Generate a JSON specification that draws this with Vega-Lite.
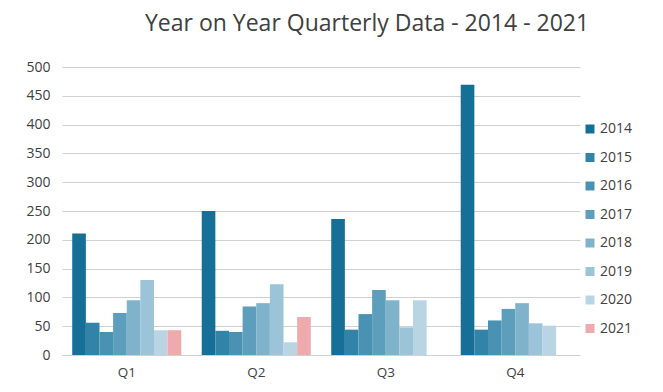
{
  "$schema": "https://vega.github.io/schema/vega-lite/v6.json",
  "width": 518,
  "height": 288,
  "autosize": {"type": "none"},
  "padding": {"left": 62, "top": 67, "right": 83, "bottom": 37},
  "background": "white",
  "title": {
    "text": "Year on Year Quarterly Data - 2014 - 2021",
    "anchor": "start",
    "frame": "group",
    "dx": 83,
    "offset": 24,
    "fontSize": 23,
    "font": "Open Sans",
    "fontWeight": "normal",
    "color": "#404040"
  },
  "config": {
    "view": {"stroke": null},
    "font": "Open Sans"
  },
  "data": {
    "values": [
      {"q": "Q1", "year": "2014", "v": 211},
      {"q": "Q1", "year": "2015", "v": 56},
      {"q": "Q1", "year": "2016", "v": 40},
      {"q": "Q1", "year": "2017", "v": 73},
      {"q": "Q1", "year": "2018", "v": 95},
      {"q": "Q1", "year": "2019", "v": 130},
      {"q": "Q1", "year": "2020", "v": 43},
      {"q": "Q1", "year": "2021", "v": 43},
      {"q": "Q2", "year": "2014", "v": 250},
      {"q": "Q2", "year": "2015", "v": 42},
      {"q": "Q2", "year": "2016", "v": 40},
      {"q": "Q2", "year": "2017", "v": 84},
      {"q": "Q2", "year": "2018", "v": 90},
      {"q": "Q2", "year": "2019", "v": 123},
      {"q": "Q2", "year": "2020", "v": 22},
      {"q": "Q2", "year": "2021", "v": 66},
      {"q": "Q3", "year": "2014", "v": 236},
      {"q": "Q3", "year": "2015", "v": 44},
      {"q": "Q3", "year": "2016", "v": 71},
      {"q": "Q3", "year": "2017", "v": 113},
      {"q": "Q3", "year": "2018", "v": 95},
      {"q": "Q3", "year": "2019", "v": 48},
      {"q": "Q3", "year": "2020", "v": 95},
      {"q": "Q4", "year": "2014", "v": 469},
      {"q": "Q4", "year": "2015", "v": 44},
      {"q": "Q4", "year": "2016", "v": 60},
      {"q": "Q4", "year": "2017", "v": 80},
      {"q": "Q4", "year": "2018", "v": 90},
      {"q": "Q4", "year": "2019", "v": 55},
      {"q": "Q4", "year": "2020", "v": 51}
    ]
  },
  "mark": {"type": "bar"},
  "encoding": {
    "x": {
      "field": "q",
      "type": "nominal",
      "scale": {"paddingInner": 0.158, "paddingOuter": 0.079},
      "axis": {
        "title": null,
        "labelAngle": 0,
        "labelFontSize": 13.5,
        "labelColor": "#404040",
        "labelPadding": 10,
        "ticks": false,
        "domainColor": "#d0d0d0",
        "domainWidth": 1
      }
    },
    "xOffset": {
      "field": "year",
      "type": "nominal",
      "scale": {"domain": ["2014","2015","2016","2017","2018","2019","2020","2021"], "paddingInner": 0, "paddingOuter": 0}
    },
    "y": {
      "field": "v",
      "type": "quantitative",
      "scale": {"domain": [0, 500], "nice": false},
      "axis": {
        "title": null,
        "values": [0,50,100,150,200,250,300,350,400,450,500],
        "domain": false,
        "ticks": false,
        "labelFontSize": 14,
        "labelColor": "#404040",
        "labelPadding": 12,
        "gridColor": "#d0d0d0",
        "gridWidth": 1
      }
    },
    "color": {
      "field": "year",
      "type": "nominal",
      "scale": {
        "domain": ["2014","2015","2016","2017","2018","2019","2020","2021"],
        "range": ["#156f96","#3283a8","#4a92b3","#5d9ebd","#7fb2cb","#9cc4d8","#b9d5e3","#eeaaad"]
      },
      "legend": {
        "title": null,
        "orient": "none",
        "legendX": 521,
        "legendY": 55,
        "symbolType": "square",
        "symbolSize": 81,
        "symbolStrokeWidth": 0,
        "labelFontSize": 14,
        "labelColor": "#404040",
        "labelOffset": 3,
        "rowPadding": 14.5
      }
    }
  }
}
